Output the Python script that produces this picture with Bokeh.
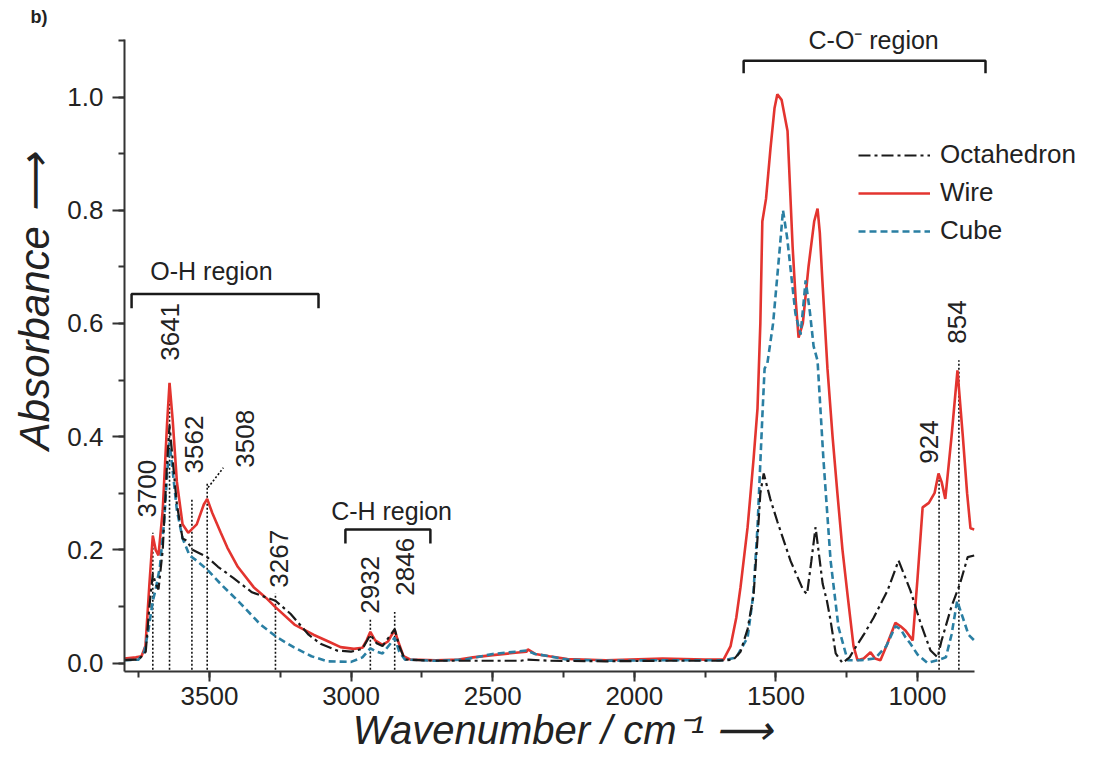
import math
from bokeh.plotting import figure
from bokeh.models import (Range1d, SingleIntervalTicker, PrintfTickFormatter, Legend,
                          LegendItem)
from bokeh.core.properties import value
from bokeh.embed import file_html
from bokeh.resources import INLINE

# ---------------- data ----------------
wire_x = [3800, 3760, 3740, 3726, 3712, 3700, 3690, 3680, 3665, 3650, 3641, 3630, 3615, 3595,
          3575, 3545, 3520, 3508, 3490, 3460, 3437, 3400, 3344, 3300, 3270, 3200, 3133, 3080,
          3037, 2990, 2960, 2945, 2932, 2915, 2889, 2870, 2856, 2846, 2835, 2815, 2790, 2700,
          2620, 2570, 2500, 2420, 2380, 2376, 2350, 2300, 2236, 2100, 1900, 1750, 1685, 1660,
          1640, 1625, 1600, 1579, 1565, 1555, 1548, 1535, 1519, 1505, 1495, 1480, 1459, 1441,
          1430, 1420, 1405, 1385, 1365, 1353, 1345, 1336, 1318, 1300, 1283, 1265, 1247, 1226,
          1212, 1190, 1166, 1150, 1131, 1110, 1078, 1060, 1042, 1017, 1000, 982, 960, 940,
          926, 915, 902, 880, 859, 840, 825, 813, 800]
wire_y = [0.008, 0.010, 0.012, 0.030, 0.140, 0.225, 0.200, 0.190, 0.270, 0.420, 0.495, 0.430,
          0.320, 0.245, 0.230, 0.245, 0.280, 0.290, 0.265, 0.230, 0.204, 0.170, 0.134, 0.115,
          0.100, 0.068, 0.050, 0.038, 0.028, 0.025, 0.027, 0.040, 0.055, 0.040, 0.032, 0.038,
          0.050, 0.058, 0.040, 0.012, 0.006, 0.005, 0.006, 0.010, 0.014, 0.018, 0.020, 0.024,
          0.016, 0.012, 0.007, 0.005, 0.008, 0.006, 0.006, 0.030, 0.080, 0.134, 0.240, 0.360,
          0.450, 0.600, 0.780, 0.820, 0.910, 0.980, 1.005, 0.995, 0.940, 0.735, 0.640, 0.575,
          0.600, 0.700, 0.780, 0.803, 0.760, 0.676, 0.520, 0.400, 0.300, 0.200, 0.120, 0.030,
          0.005, 0.008, 0.019, 0.008, 0.005, 0.030, 0.071, 0.065, 0.057, 0.040, 0.150, 0.275,
          0.283, 0.300, 0.335, 0.320, 0.290, 0.400, 0.517, 0.400, 0.300, 0.238, 0.236]

cube_x = [3800, 3750, 3730, 3715, 3700, 3690, 3675, 3660, 3650, 3641, 3630, 3615, 3595, 3570,
          3543, 3508, 3461, 3390, 3320, 3260, 3203, 3140, 3083, 3000, 2960, 2932, 2910, 2889,
          2860, 2846, 2830, 2810, 2700, 2600, 2500, 2420, 2380, 2350, 2300, 2236, 2100, 1900,
          1750, 1680, 1640, 1600, 1580, 1565, 1547, 1540, 1530, 1510, 1486, 1475, 1460, 1431,
          1413, 1395, 1380, 1367, 1353, 1332, 1307, 1279, 1247, 1200, 1150, 1110, 1078, 1060,
          1042, 1025, 1000, 965, 930, 900, 880, 860, 840, 820, 800]
cube_y = [0.005, 0.006, 0.020, 0.060, 0.110, 0.130, 0.170, 0.250, 0.330, 0.390, 0.340, 0.270,
          0.220, 0.190, 0.180, 0.165, 0.140, 0.105, 0.068, 0.045, 0.028, 0.012, 0.003, 0.002,
          0.010, 0.026, 0.020, 0.017, 0.035, 0.045, 0.020, 0.006, 0.004, 0.006, 0.016, 0.020,
          0.022, 0.016, 0.012, 0.006, 0.004, 0.005, 0.005, 0.005, 0.010, 0.045, 0.120, 0.240,
          0.446, 0.520, 0.530, 0.600, 0.735, 0.800, 0.750, 0.617, 0.580, 0.676, 0.620, 0.560,
          0.534, 0.358, 0.181, 0.063, 0.005, 0.005, 0.008, 0.030, 0.065, 0.060, 0.045, 0.034,
          0.015, 0.000, 0.005, 0.010, 0.050, 0.110, 0.080, 0.050, 0.040]

octa_x = [3800, 3750, 3725, 3712, 3700, 3690, 3680, 3665, 3650, 3641, 3630, 3615, 3595, 3580,
          3560, 3532, 3508, 3470, 3415, 3350, 3267, 3214, 3150, 3108, 3050, 3000, 2960, 2932,
          2910, 2889, 2860, 2846, 2830, 2810, 2700, 2600, 2500, 2400, 2380, 2300, 2100, 1900,
          1700, 1650, 1625, 1600, 1579, 1565, 1555, 1543, 1520, 1495, 1448, 1403, 1390, 1375,
          1360, 1350, 1335, 1320, 1307, 1289, 1265, 1240, 1226, 1190, 1155, 1106, 1067, 1025,
          989, 954, 929, 915, 880, 850, 823, 800]
octa_y = [0.005, 0.006, 0.020, 0.100, 0.158, 0.140, 0.130, 0.200, 0.350, 0.420, 0.360, 0.280,
          0.220, 0.216, 0.200, 0.193, 0.187, 0.170, 0.150, 0.125, 0.110, 0.087, 0.050, 0.034,
          0.022, 0.020, 0.025, 0.050, 0.035, 0.030, 0.050, 0.060, 0.030, 0.006, 0.004, 0.004,
          0.004, 0.004, 0.006, 0.004, 0.003, 0.004, 0.004, 0.006, 0.020, 0.060, 0.120, 0.220,
          0.300, 0.335, 0.290, 0.250, 0.180, 0.128, 0.122, 0.180, 0.240, 0.200, 0.140, 0.110,
          0.075, 0.017, 0.000, 0.010, 0.022, 0.050, 0.080, 0.128, 0.181, 0.128, 0.070, 0.022,
          0.010, 0.040, 0.100, 0.140, 0.187, 0.190]

peak_names = ["3700", "3641", "3562", "3508", "3267", "2932", "2846", "924", "854"]
peak_w = [3700, 3641, 3562, 3508, 3267, 2932, 2846, 924, 854]
peak_top = [0.23, 0.495, 0.29, 0.317, 0.123, 0.08, 0.09, 0.335, 0.535]
label_w = [3722, 3638, 3553, 3373, 3253, 2932, 2811, 958, 859]
label_y = [0.257, 0.534, 0.335, 0.345, 0.133, 0.087, 0.119, 0.352, 0.564]

region_names = ["O-H region", "C-H region", "C-O\u207b region"]
region_start = [3775, 3020, 1614]
region_end = [3115, 2720, 760]
region_top = [0.652, 0.236, 1.064]
region_low = [0.627, 0.211, 1.042]
region_text_x = [3493, 2857, 1155]
region_text_y = [0.693, 0.269, 1.101]

x_ticks_interval = 500
y_ticks_interval = 0.2

# ---------------- figure ----------------
FONT = "Liberation Sans"
TXT = "#222222"
NB = "\u00a0"
p = figure(frame_width=976, frame_height=645, output_backend="svg", toolbar_location=None,
           x_range=Range1d(3800, 354), y_range=Range1d(-0.015, 1.1246),
           min_border_left=124, min_border_top=26, min_border_right=1, min_border_bottom=94,
           title="b)")
p.title.align = "left"
p.title.offset = -94
p.title.standoff = 0
p.title.text_font = FONT
p.title.text_font_size = "18px"
p.title.text_font_style = "bold"
p.title.text_color = TXT
p.outline_line_color = None
p.xgrid.visible = False
p.ygrid.visible = False

for ax in (p.xaxis[0], p.yaxis[0]):
    ax.axis_line_width = 2
    ax.axis_line_color = "#333333"
    ax.major_tick_line_width = 2
    ax.minor_tick_line_width = 2
    ax.major_tick_line_color = "#333333"
    ax.minor_tick_line_color = "#333333"
    ax.major_tick_in = 0
    ax.minor_tick_in = 0
    ax.major_label_text_font = FONT
    ax.major_label_text_font_size = "26px"
    ax.major_label_text_color = TXT
    ax.axis_label_text_font = FONT
    ax.axis_label_text_font_style = "italic"
    ax.axis_label_text_color = TXT

p.xaxis.ticker = SingleIntervalTicker(interval=x_ticks_interval, num_minor_ticks=2)
p.xaxis.bounds = (800, 3800)
p.xaxis.major_tick_out = 10
p.xaxis.minor_tick_out = 6
p.xaxis.major_label_standoff = 5
p.xaxis.axis_label = "Wavenumber / cm\u207b\u00b9 \u27f6" + NB * 9
p.xaxis.axis_label_text_font_size = "40px"
p.xaxis.axis_label_standoff = 0

p.yaxis.ticker = SingleIntervalTicker(interval=y_ticks_interval, num_minor_ticks=2)
p.yaxis.bounds = (-0.015, 1.101)
p.yaxis.formatter = PrintfTickFormatter(format="%.1f")
p.yaxis.major_tick_out = 12
p.yaxis.minor_tick_out = 6
p.yaxis.major_label_standoff = 9
p.yaxis.axis_label = NB * 8 + "Absorbance \u27f6"
p.yaxis.axis_label_text_font_size = "42px"
p.yaxis.axis_label_standoff = 6

# peak marker lines
p.segment(x0=peak_w, y0=[-0.012] * len(peak_w), x1=peak_w, y1=peak_top,
          line_color="#111111", line_width=1.6, line_dash="2 2")
p.line([3505, 3451], [0.31, 0.345], line_color="#111111", line_width=1.6, line_dash="2 2")

# spectra
r_wire = p.line(wire_x, wire_y, line_color="#e3342f", line_width=2.6)
r_cube = p.line(cube_x, cube_y, line_color="#2a7fa3", line_width=2.6, line_dash="7 4")
r_octa = p.line(octa_x, octa_y, line_color="#1a1a1a", line_width=2.2, line_dash="12 4 3 4")

# peak labels
p.text(x=label_w, y=label_y, text=peak_names, angle=math.pi / 2, text_align="left",
       text_baseline="middle", text_font=value(FONT), text_font_size="26px", text_color=TXT)

# region brackets
bx = [[s, s, e, e] for s, e in zip(region_start, region_end)]
by = [[lo, t, t, lo] for t, lo in zip(region_top, region_low)]
p.multi_line(bx, by, line_color="#1a1a1a", line_width=2.5)
p.text(x=region_text_x, y=region_text_y, text=region_names, text_align="center",
       text_baseline="middle", text_font=value(FONT), text_font_size="25px", text_color=TXT)

# legend
legend = Legend(items=[LegendItem(label="Octahedron", renderers=[r_octa]),
                       LegendItem(label="Wire", renderers=[r_wire]),
                       LegendItem(label="Cube", renderers=[r_cube])],
                location=(734, 425), padding=0, margin=0, spacing=7,
                glyph_width=72, glyph_height=30, label_height=30, label_standoff=10,
                label_text_font=FONT, label_text_font_size="26px", label_text_color=TXT,
                border_line_color=None, background_fill_alpha=0)
p.add_layout(legend)

open("out.html", "w").write(file_html(p, INLINE))
